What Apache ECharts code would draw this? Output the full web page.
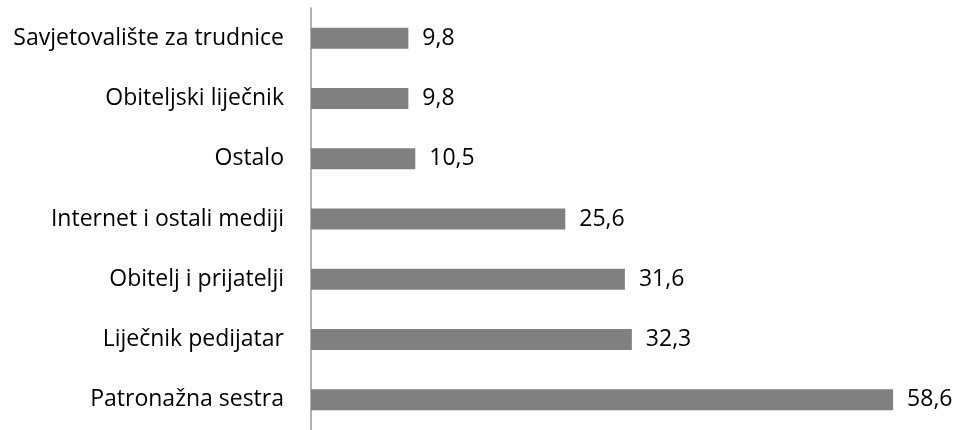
<!DOCTYPE html>
<html>
<head>
<meta charset="utf-8">
<script src="https://cdn.jsdelivr.net/npm/echarts@6/dist/echarts.min.js"></script>
<style>
  html, body { margin: 0; padding: 0; background: #fff; }
  #chart { width: 959px; height: 430px; }
</style>
</head>
<body>
<div id="chart"></div>
<script>
// categories listed bottom to top, as the category axis draws them
const categories = [
    'Patronažna sestra',
    'Liječnik pedijatar',
    'Obitelj i prijatelji',
    'Internet i ostali mediji',
    'Ostalo',
    'Obiteljski liječnik',
    'Savjetovalište za trudnice'
]
const values = [58.6, 32.3, 31.6, 25.6, 10.5, 9.8, 9.8]

const font = 'Open Sans'

let chart = echarts.init(document.getElementById('chart'))
chart.setOption({
    animation: false,
    grid: {
        left: 311,
        right: 52,
        top: 8,
        bottom: -3,
        containLabel: false
    },
    xAxis: {
        type: 'value',
        min: 0,
        max: 60,
        show: false
    },
    yAxis: {
        type: 'category',
        data: categories,
        axisLine: { show: true, lineStyle: { color: '#999999', width: 1.5 } },
        axisTick: { show: false },
        axisLabel: {
            margin: 27,
            color: '#000',
            fontSize: 23,
            fontFamily: font
        }
    },
    series: [{
        type: 'bar',
        data: values,
        barWidth: 21,
        itemStyle: { color: '#808080' },
        label: {
            show: true,
            position: 'right',
            distance: 14,
            color: '#000',
            fontSize: 23,
            fontFamily: font,
            formatter: function(p) {
                return p.value.toFixed(1).replace('.', ',')
            }
        }
    }]
})
</script>
</body>
</html>
